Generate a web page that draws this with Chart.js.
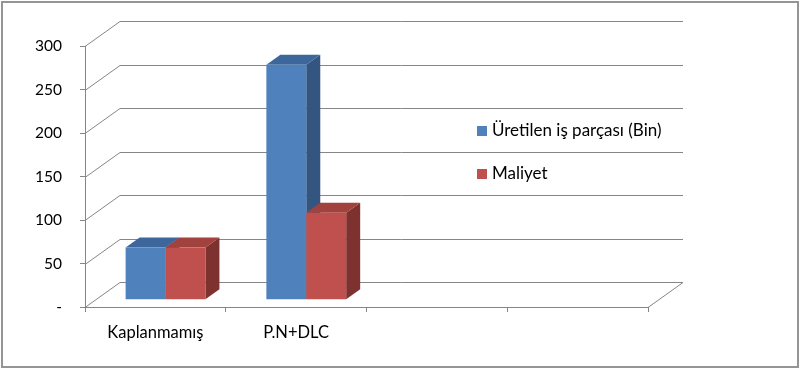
<!DOCTYPE html>
<html>
<head>
<meta charset="utf-8">
<script src="https://cdn.jsdelivr.net/npm/chart.js"></script>
<style>
  html, body { margin: 0; padding: 0; background: #fff; }
  #wrap { width: 800px; height: 368px; }
</style>
</head>
<body>
<div id="wrap"><canvas id="chart" width="800" height="368"></canvas></div>
<script>
// Veriler
const categories = ['Kaplanmamış', 'P.N+DLC', '', ''];
const seriesNames = ['Üretilen iş parçası (Bin)', 'Maliyet'];
const uretilen = [60, 270, null, null];
const maliyet = [60, 100, null, null];
const yTicks = [0, 50, 100, 150, 200, 250, 300];

// Renkler: ön yüz, üst yüz, yan yüz
const frontColors = ['#4F81BD', '#C0504D'];
const topColors = ['#3D679B', '#A2423F'];
const sideColors = ['#33557F', '#7E3230'];
const gridColor = '#868686';
const FONT = 'Lato, "Open Sans", sans-serif';

// 3B kutunun derinliği
const DX = 35, DY = -25;
const BAR_FROM = 0.29, BAR_DEPTH = 0.4;

const box3d = {
    id: 'box3d',
    beforeDraw(chart) {
        const ctx = chart.ctx;
        ctx.save();
        ctx.fillStyle = '#fff';
        ctx.fillRect(0, 0, chart.width, chart.height);
        ctx.strokeStyle = '#959595';
        ctx.lineWidth = 2;
        ctx.strokeRect(2, 2, chart.width - 4, chart.height - 3);
        ctx.restore();
    },
    beforeDatasetsDraw(chart) {
        const ctx = chart.ctx;
        const area = chart.chartArea;
        const y = chart.scales.y;
        ctx.save();
        ctx.strokeStyle = gridColor;
        ctx.lineWidth = 1;
        ctx.beginPath();
        // yan duvar ve arka duvar çizgileri
        yTicks.forEach(v => {
            const py = Math.round(y.getPixelForValue(v)) + 0.5;
            ctx.moveTo(area.left, py);
            ctx.lineTo(area.left + DX, py + DY);
            ctx.lineTo(area.right + DX, py + DY);
        });
        // zeminin sağ kenarı
        const p0 = Math.round(y.getPixelForValue(0)) + 0.5;
        ctx.moveTo(area.right, p0);
        ctx.lineTo(area.right + DX, p0 + DY);
        ctx.stroke();

        // çubuklar
        const ox = DX * BAR_FROM, oy = DY * BAR_FROM;
        const bx = DX * BAR_DEPTH, by = DY * BAR_DEPTH;
        for (let i = 0; i < categories.length; i++) {
            chart.data.datasets.forEach((ds, j) => {
                if (ds.data[i] == null) return;
                const el = chart.getDatasetMeta(j).data[i];
                const l = el.x - el.width / 2 + ox;
                const r = el.x + el.width / 2 + ox;
                const t = el.y + oy;
                const b = el.base + oy;
                ctx.fillStyle = sideColors[j];
                ctx.beginPath();
                ctx.moveTo(r, t); ctx.lineTo(r + bx, t + by);
                ctx.lineTo(r + bx, b + by); ctx.lineTo(r, b);
                ctx.closePath(); ctx.fill();
                ctx.fillStyle = topColors[j];
                ctx.beginPath();
                ctx.moveTo(l, t); ctx.lineTo(l + bx, t + by);
                ctx.lineTo(r + bx, t + by); ctx.lineTo(r, t);
                ctx.closePath(); ctx.fill();
                ctx.fillStyle = frontColors[j];
                ctx.fillRect(l, t, r - l, b - t);
            });
        }

        // gösterge
        ctx.font = '17px ' + FONT;
        ctx.textBaseline = 'middle';
        ctx.textAlign = 'left';
        seriesNames.forEach((name, j) => {
            const cy = 131 + j * 43;
            ctx.fillStyle = frontColors[j];
            ctx.fillRect(477, cy - 5, 10, 10);
            ctx.fillStyle = '#000';
            ctx.fillText(name, 492, cy);
        });
        ctx.restore();
        return false;
    }
};

new Chart(document.getElementById('chart'), {
    type: 'bar',
    data: {
        labels: categories,
        datasets: [
            { label: seriesNames[0], data: uretilen, backgroundColor: frontColors[0] },
            { label: seriesNames[1], data: maliyet, backgroundColor: frontColors[1] }
        ]
    },
    options: {
        responsive: false,
        animation: false,
        devicePixelRatio: 1,
        layout: { padding: { left: 15, right: 152, top: 46, bottom: 10 } },
        datasets: { bar: { categoryPercentage: 0.567, barPercentage: 1.0 } },
        plugins: {
            legend: { display: false },
            title: { display: false },
            tooltip: { enabled: false }
        },
        scales: {
            x: {
                offset: true,
                grid: { offset: true, drawOnChartArea: false, drawTicks: true, tickLength: 5, color: gridColor },
                border: { display: true, color: gridColor },
                ticks: { color: '#000', font: { family: FONT, size: 16.5 }, padding: 11, maxRotation: 0 },
                afterFit(s) { s.height = 51; }
            },
            y: {
                min: 0,
                max: 300,
                afterBuildTicks(s) { s.ticks = yTicks.map(v => ({ value: v })); },
                grid: { drawOnChartArea: false, drawTicks: true, tickLength: 5, color: gridColor },
                border: { display: true, color: gridColor },
                ticks: {
                    color: '#000',
                    font: { family: FONT, size: 15.5 },
                    padding: 18,
                    callback: v => v === 0 ? '-' : v
                },
                afterFit(s) { s.width = 70; }
            }
        }
    },
    plugins: [box3d]
});
</script>
</body>
</html>
